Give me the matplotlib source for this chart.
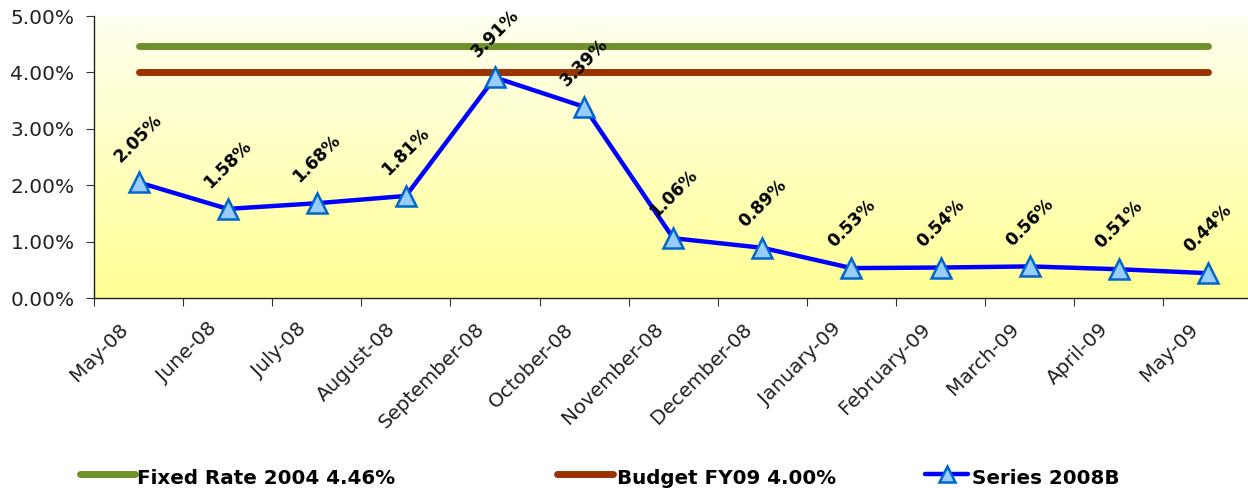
import matplotlib
matplotlib.use("Agg")
import matplotlib.pyplot as plt
import numpy as np
from matplotlib.lines import Line2D
from matplotlib.transforms import ScaledTranslation

months = ["May-08", "June-08", "July-08", "August-08", "September-08", "October-08",
          "November-08", "December-08", "January-09", "February-09", "March-09",
          "April-09", "May-09"]
series_2008b = [2.05, 1.58, 1.68, 1.81, 3.91, 3.39, 1.06, 0.89, 0.53, 0.54, 0.56, 0.51, 0.44]
fixed_rate = 4.46
budget = 4.00
yticks = [0, 1, 2, 3, 4, 5]

plt.rcParams['font.family'] = ['DejaVu Sans']

fig = plt.figure(figsize=(12.48, 4.88), dpi=100)
ax = fig.add_axes([94/1248, 1-298/488, (1252.5-94)/1248, (298-16)/488])

x = np.arange(len(months))
ax.set_xlim(-0.5, len(months) - 0.5)
ax.set_ylim(0, 5)

# gradient background
grad = np.linspace(0, 1, 256).reshape(-1, 1)
top = np.array([1.0, 1.0, 0.94])
bot = np.array([1.0, 1.0, 0.58])
img = top[None, None, :] * (1 - grad[:, :, None]) + bot[None, None, :] * grad[:, :, None]
ax.imshow(img, extent=[-0.5, len(months) - 0.5, 0, 5], aspect='auto', zorder=0, origin='upper')

ax.plot(x, [fixed_rate]*len(x), color='#6f922b', lw=5, solid_capstyle='round', zorder=2)
ax.plot(x, [budget]*len(x), color='#993300', lw=5, solid_capstyle='round', zorder=2)
ax.plot(x, series_2008b, color='#0000ff', lw=3.2, marker='^', markersize=14,
        markerfacecolor='#99ccff', markeredgecolor='#0066cc', markeredgewidth=1.8,
        zorder=3, clip_on=False)

for xi, v in zip(x, series_2008b):
    ax.annotate(f"{v:.2f}%", (xi, v), xytext=(0, 32), textcoords='offset points',
                ha='center', va='center', rotation=45, fontsize=12.3, fontweight='bold',
                annotation_clip=False, zorder=4)

ax.set_yticks(yticks)
ax.set_yticklabels([f"{t:.2f}%" for t in yticks], fontsize=14.5, color='#222222')
ax.set_xticks(np.arange(len(months) + 1) - 0.5)
ax.set_xticklabels([])
ax.set_xticks(x, minor=True)
ax.set_xticklabels(months, minor=True, rotation=45, ha='right', va='top',
                   rotation_mode='anchor', fontsize=14.3, color='#222222')
ax.tick_params(axis='x', which='minor', length=0, pad=6)
ax.tick_params(axis='x', which='major', length=6, direction='out', color='#333333')
ax.tick_params(axis='y', length=6, direction='out', color='#333333', pad=8)
for lab in ax.get_xticklabels(minor=True):
    lab.set_transform(lab.get_transform() + ScaledTranslation(-0.20, -0.13, fig.dpi_scale_trans))
for s in ['top', 'right']:
    ax.spines[s].set_visible(False)
for s in ['left', 'bottom']:
    ax.spines[s].set_color('#222222')
    ax.spines[s].set_linewidth(1)

# legend
ly = 1 - 474/488
ty = 1 - 476/488
W = 1248
fig.add_artist(Line2D([80/W, 135/W], [ly, ly], color='#6f922b', lw=5, solid_capstyle='round'))
fig.text(137/W, ty, "Fixed Rate 2004 4.46%", fontsize=14.3, fontweight='bold', va='center_baseline', ha='left')
fig.add_artist(Line2D([557/W, 613/W], [ly, ly], color='#993300', lw=5, solid_capstyle='round'))
fig.text(617/W, ty, "Budget FY09 4.00%", fontsize=14.3, fontweight='bold', va='center_baseline', ha='left')
fig.add_artist(Line2D([925/W, 968/W], [ly, ly], color='#0000ff', lw=3.2, solid_capstyle='round'))
fig.add_artist(Line2D([946.5/W], [ly], marker='^', markersize=11, markerfacecolor='#99ccff',
                      markeredgecolor='#0066cc', markeredgewidth=1.8, linestyle='none'))
fig.text(972/W, ty, "Series 2008B", fontsize=14.3, fontweight='bold', va='center_baseline', ha='left')

fig.savefig("out.png", dpi=100)
